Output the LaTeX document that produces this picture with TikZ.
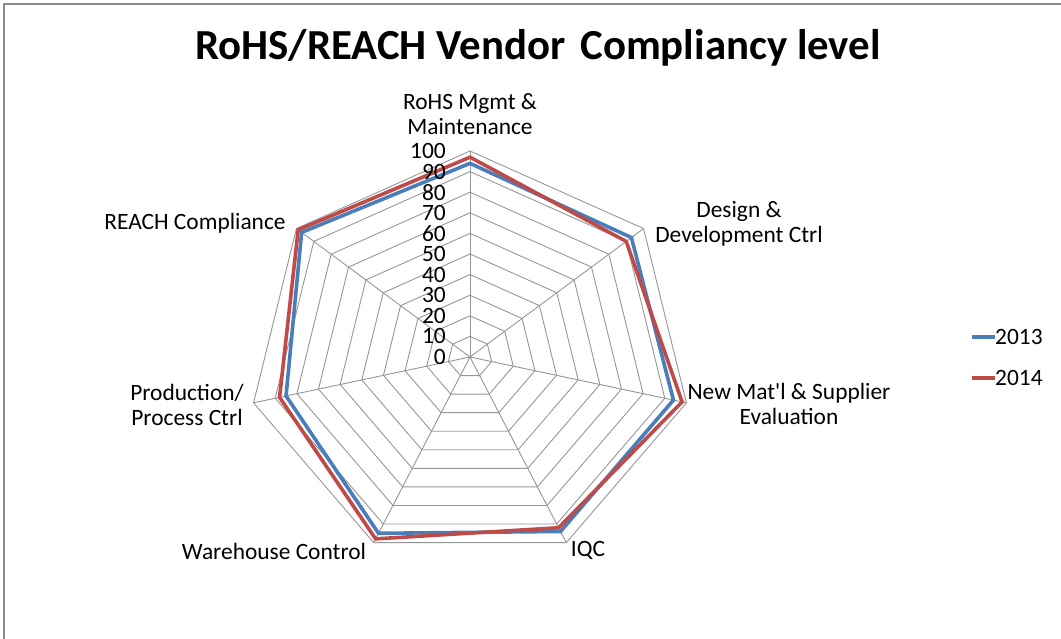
\documentclass[tikz,border=0pt]{standalone}
\usepackage{fontspec}
\setmainfont{Carlito}[Ligatures=TeXOff]
\usetikzlibrary{positioning}
\definecolor{blue13}{HTML}{4A7EBB}
\definecolor{red14}{HTML}{BE4B48}
\definecolor{gridgray}{HTML}{969696}
\tikzset{
  axislabel/.style={inner sep=0pt,align=center,font=\fontsize{23.5}{25.5}\selectfont},
  ticklabel/.style={inner sep=0pt,font=\fontsize{23.5}{25.5}\selectfont},
  series/.style={line width=3.6bp,line join=miter},
}
\begin{document}
\begin{tikzpicture}[x=1bp,y=-1bp]
\useasboundingbox (0,0) rectangle (1061,639);
\draw[gray!90,line width=1.5bp] (4,639) -- (4,4) -- (1061,4);

\node[inner sep=0pt,font=\bfseries\fontsize{43}{48}\selectfont] (title) at (538,48) {RoHS/REACH Vendor\hspace{0.12em} Compliancy level};

\begin{scope}[shift={(470,357)},x=222bp,y=206bp]
\coordinate (o) at (0,0);
\foreach \r in {1,...,10}
  \draw[gridgray,line width=0.9bp] (90:\r/10) -- ({90-360/7}:\r/10) -- ({90-2*360/7}:\r/10) -- ({90-3*360/7}:\r/10)
    -- ({90-4*360/7}:\r/10) -- ({90-5*360/7}:\r/10) -- ({90-6*360/7}:\r/10) -- cycle;
\foreach \k in {0,...,6}
  \draw[gridgray,line width=0.9bp] (o) -- ({90-\k*360/7}:1);

% 2013
\draw[series,blue13] (90:.94) -- ({90-360/7}:.93) -- ({90-2*360/7}:.94) -- ({90-3*360/7}:.94)
  -- ({90-4*360/7}:.95) -- ({90-5*360/7}:.85) -- ({90-6*360/7}:.97) -- cycle;
% 2014
\draw[series,red14] (90:.97) -- ({90-360/7}:.90) -- ({90-2*360/7}:.98) -- ({90-3*360/7}:.92)
  -- ({90-4*360/7}:.98) -- ({90-5*360/7}:.88) -- ({90-6*360/7}:.99) -- cycle;
\end{scope}

\foreach \v in {0,10,...,100}
  \node[ticklabel,anchor=east] (tick\v) at (446,{357-2.06*\v}) {\v};

\node[axislabel] (rohs) at (470,114) {RoHS Mgmt \&\\Maintenance};
\node[axislabel] (design) at (739,224) {Design \&\\Development Ctrl};
\node[axislabel] (newmat) at (789,404) {New Mat'l \& Supplier\\Evaluation};
\node[axislabel] (iqc) at (588,550) {IQC};
\node[axislabel] (warehouse) at (274,551) {Warehouse Control};
\node[axislabel] (production) at (187,405) {Production/\\Process Ctrl};
\node[axislabel] (reach) at (195,223) {REACH Compliance};

% legend
\node[axislabel,anchor=west] (y13) at (995,337) {2013};
\node[axislabel,anchor=west] (y14) at (995,378) {2014};
\coordinate (l13) at (972,337);
\coordinate (l14) at (972,378);
\draw[series,blue13] (l13) -- (y13.west);
\draw[series,red14] (l14) -- (y14.west);
\end{tikzpicture}
\end{document}
